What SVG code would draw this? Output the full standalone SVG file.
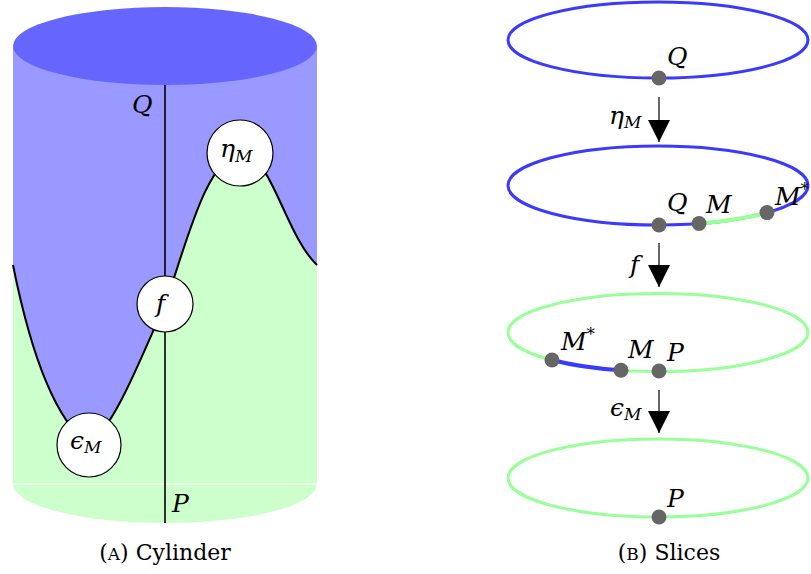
<svg xmlns="http://www.w3.org/2000/svg" width="811" height="574" viewBox="0 0 811 574">
<style>
text{font-family:'DejaVu Serif','Liberation Serif',serif}
.m{font-style:italic;font-size:25px;fill:#000}
.s{font-size:17px}
.cap{font-size:22px;fill:#000}
.node{fill:#fff;stroke:#000;stroke-width:1.2}
.blue{fill:none;stroke:#3a3aff;stroke-width:3}
.green{fill:none;stroke:#99ff99;stroke-width:3}
.cover{stroke-width:4}
.dot{fill:#666}
.conn{stroke:#000;stroke-width:1.6;fill:none}
.arr{stroke:#000;stroke-width:1.2;fill:none}
</style>
<defs>
<marker id="ah" markerWidth="22" markerHeight="22" viewBox="0 0 22 22" refX="22" refY="11" orient="auto" markerUnits="userSpaceOnUse">
<path d="M0,0 L22,11 L0,22 Z" fill="#000"/>
</marker>
</defs>
<rect width="811" height="574" fill="#fff"/>

<g id="cylinder">
<rect x="13" y="46" width="304" height="438" fill="#9999ff"/>
<path d="M13,265 C30,350 55,420 89,445 C115,425 140,360 165,304 C185,250 205,160 240,153 C270,150 285,235 317,265 L317,484 L13,484 Z" fill="#ccffcc"/>
<path d="M13,484 A152,39 0 0 0 317,484 Z" fill="#ccffcc"/>
<line x1="13" y1="484" x2="317" y2="484" stroke="#fff" stroke-width="1"/>
<ellipse cx="165" cy="46" rx="152" ry="39" fill="#6666ff"/>
<path d="M13,265 C30,350 55,420 89,445 C115,425 140,360 165,304 C185,250 205,160 240,153 C270,150 285,235 317,265" fill="none" stroke="#000" stroke-width="2"/>
</g>

<g id="connectors">
<line class="conn" x1="165" y1="85" x2="165" y2="523"/>
<line class="arr" x1="659" y1="97" x2="659" y2="142" marker-end="url(#ah)"/>
<line class="arr" x1="659" y1="243" x2="659" y2="287" marker-end="url(#ah)"/>
<line class="arr" x1="659" y1="390" x2="659" y2="433" marker-end="url(#ah)"/>
</g>

<g id="label-Q-cyl"><text class="m" x="132" y="113">Q</text></g>
<g id="label-P-cyl"><text class="m" x="172" y="512">P</text></g>

<g id="node-eta">
<circle class="node" cx="240" cy="153" r="33"/>
<text class="m" x="220" y="157">η<tspan class="s" dy="5">M</tspan></text>
</g>
<g id="node-f">
<circle class="node" cx="165" cy="304" r="28"/>
<text class="m" x="156" y="312">f</text>
</g>
<g id="node-eps">
<circle class="node" cx="89" cy="445" r="32"/>
<text class="m" x="70" y="449">ϵ<tspan class="s" dy="4">M</tspan></text>
</g>

<g id="slice1">
<ellipse class="blue" cx="658" cy="40" rx="150" ry="38"/>
<circle class="dot" cx="659" cy="78" r="7.5"/>
<text class="m" x="667" y="65">Q</text>
</g>

<g id="slice2">
<ellipse class="blue" cx="658" cy="185.5" rx="150" ry="39.5"/>
<path class="green cover" d="M699,223.5 A150,39.5 0 0 0 767,212.6"/>
<circle class="dot" cx="659" cy="225" r="7.5"/>
<circle class="dot" cx="699" cy="223.5" r="7.5"/>
<circle class="dot" cx="767" cy="212.6" r="7.5"/>
<text class="m" x="667" y="211">Q</text>
<text class="m" x="706" y="213">M</text>
<text class="m" x="775" y="205">M<tspan class="s" dy="-10">*</tspan></text>
</g>

<g id="slice3">
<ellipse class="green" cx="658" cy="332.5" rx="150" ry="39"/>
<path class="blue cover" d="M552,360 A150,39 0 0 0 621,370.3"/>
<circle class="dot" cx="552" cy="360" r="7.5"/>
<circle class="dot" cx="621" cy="370.3" r="7.5"/>
<circle class="dot" cx="659" cy="371" r="7.5"/>
<text class="m" x="561" y="350">M<tspan class="s" dy="-10">*</tspan></text>
<text class="m" x="628" y="358">M</text>
<text class="m" x="667" y="361">P</text>
</g>

<g id="slice4">
<ellipse class="green" cx="658" cy="478" rx="150" ry="39"/>
<circle class="dot" cx="659" cy="517" r="7.5"/>
<text class="m" x="667" y="507">P</text>
</g>

<g id="arrow-labels">
<text class="m" x="609" y="124">η<tspan class="s" dy="4">M</tspan></text>
<text class="m" x="630" y="273">f</text>
<text class="m" x="610" y="416">ϵ<tspan class="s" dy="4">M</tspan></text>
</g>

<g id="captions">
<text class="cap" x="165" y="560" text-anchor="middle">(<tspan font-size="17">A</tspan>) Cylinder</text>
<text class="cap" x="669" y="560" text-anchor="middle">(<tspan font-size="17">B</tspan>) Slices</text>
</g>
</svg>
